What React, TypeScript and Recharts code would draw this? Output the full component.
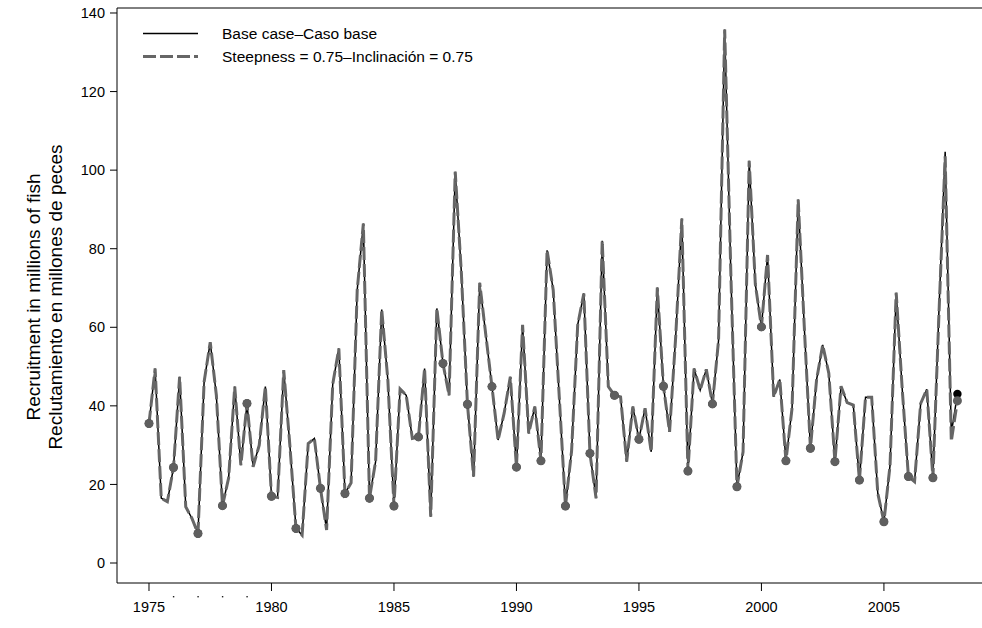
import { LineChart, Line, XAxis, YAxis, ReferenceLine, Legend } from 'recharts';

// quarterly recruitment, first quarter of 1975 to first quarter of 2008
const START_YEAR = 1975;

const baseCase = [
  35.5, 49.5, 16.5, 15.6,
  24.3, 47.4, 14.3, 11.4,
  7.5, 46.1, 56.2, 42.7,
  14.6, 21.6, 44.9, 24.9,
  40.6, 24.5, 30.0, 44.9,
  17.0, 16.7, 49.1, 30.0,
  8.8, 7.1, 30.4, 31.7,
  19.0, 8.4, 45.5, 54.6,
  17.7, 20.4, 69.5, 86.4,
  16.5, 25.8, 64.5, 46.6,
  14.5, 44.3, 42.7, 31.7,
  32.1, 49.5, 11.8, 64.8,
  50.8, 42.7, 99.6, 74.0,
  40.4, 22.0, 71.3, 58.0,
  44.9, 31.3, 38.2, 47.4,
  24.4, 60.6, 33.0, 39.8,
  26.0, 79.6, 69.5, 42.0,
  14.5, 28.5, 60.6, 68.6,
  27.9, 16.5, 82.0, 44.9,
  42.7, 42.3, 25.8, 39.8,
  31.5, 39.4, 28.3, 70.1,
  45.0, 33.4, 57.6, 87.7,
  23.4, 49.5, 44.0, 49.3,
  40.5, 56.7, 135.8, 74.0,
  19.4, 28.3, 102.4, 71.0,
  60.1, 78.4, 42.3, 46.7,
  26.0, 39.4, 92.5, 60.0,
  29.2, 46.6, 55.5, 48.3,
  25.8, 45.0, 40.8, 40.2,
  21.1, 42.2, 42.2, 17.7,
  10.5, 24.9, 68.8, 44.0,
  22.0, 20.7, 40.6, 44.2,
  21.7, 65.0, 104.7, 33.0,
  43.0,
];

const steepness075 = [
  35.5, 49.5, 16.5, 15.6,
  24.3, 47.4, 14.3, 11.4,
  7.5, 46.1, 56.2, 42.7,
  14.6, 21.6, 44.9, 24.9,
  40.6, 24.5, 30.0, 44.9,
  17.0, 16.7, 49.1, 30.0,
  8.8, 7.1, 30.4, 31.7,
  19.0, 8.4, 45.5, 54.6,
  17.7, 20.4, 69.5, 86.4,
  16.5, 25.8, 64.5, 46.6,
  14.5, 44.3, 42.7, 31.7,
  32.1, 49.5, 11.8, 64.8,
  50.8, 42.7, 99.6, 74.0,
  40.4, 22.0, 71.3, 58.0,
  44.9, 31.3, 38.2, 47.4,
  24.4, 60.6, 33.0, 39.8,
  26.0, 79.6, 69.5, 42.0,
  14.5, 28.5, 60.6, 68.6,
  27.9, 16.5, 82.0, 44.9,
  42.7, 42.3, 25.8, 39.8,
  31.5, 39.4, 28.3, 70.1,
  45.0, 33.4, 57.6, 87.7,
  23.4, 49.5, 44.0, 49.3,
  40.5, 56.7, 135.8, 74.0,
  19.4, 28.3, 102.4, 71.0,
  60.1, 78.4, 42.3, 46.7,
  26.0, 39.4, 92.5, 60.0,
  29.2, 46.6, 55.5, 48.3,
  25.8, 45.0, 40.8, 40.2,
  21.1, 42.2, 42.2, 17.7,
  10.5, 24.9, 68.8, 44.0,
  22.0, 20.7, 40.6, 44.2,
  21.7, 64.0, 103.5, 31.0,
  41.3,
];

const xTicks = [1975, 1976, 1977, 1978, 1979, 1980, 1985, 1990, 1995, 2000, 2005];
const yTicks = [0, 20, 40, 60, 80, 100, 120, 140];

const legendItems = [
  { label: 'Base case\u2013Caso base', color: '#000000', width: 1.5, dash: undefined },
  { label: 'Steepness = 0.75\u2013Inclinaci\u00f3n = 0.75', color: '#666666', width: 3, dash: '13 4' },
];

const yLabelLines = ['Recruitment in millions of fish', 'Reclutamiento en millones de peces'];

const FONT = '"Liberation Sans", Arial, Helvetica, sans-serif';
const X_DOMAIN: [number, number] = [1973.694, 2009.33];
const Y_DOMAIN: [number, number] = [-5.09, 141.27];
const AXIS_Y = 583;

const data = baseCase.map((v, i) => ({
  t: START_YEAR + i / 4,
  base: v,
  steep: steepness075[i],
}));

// only the first quarter of each year gets a point
const yearDot = (fill: string, r: number) => (props: any) => {
  const { cx, cy, index } = props;
  if (index % 4 !== 0 || cx == null || cy == null) return <g key={`d-${index}`} />;
  return <circle key={`d-${index}`} cx={cx} cy={cy} r={r} fill={fill} stroke="none" />;
};

function XTick({ x, payload }: any) {
  const major = payload.value % 5 === 0;
  if (!major) {
    return <rect x={x - 0.6} y={AXIS_Y + 13} width={1.4} height={1.4} fill="#222" />;
  }
  return (
    <g>
      <line x1={x} x2={x} y1={AXIS_Y} y2={AXIS_Y + 8} stroke="#000" />
      <text x={x} y={AXIS_Y + 29} textAnchor="middle" fontSize={14.5} fontFamily={FONT} fill="#000">
        {payload.value}
      </text>
    </g>
  );
}

function YLabel() {
  return (
    <g>
      {yLabelLines.map((line, i) => (
        <text
          key={line}
          x={0}
          y={0}
          transform={`translate(${40 + i * 22}, 297) rotate(-90)`}
          textAnchor="middle"
          fontSize={19}
          fontFamily={FONT}
          fill="#000"
        >
          {line}
        </text>
      ))}
    </g>
  );
}

function LegendBox() {
  return (
    <div style={{ fontFamily: FONT, fontSize: 15.5, color: '#000' }}>
      {legendItems.map((item) => (
        <div key={item.label} style={{ display: 'flex', alignItems: 'center', height: 23 }}>
          <svg width={62} height={23}>
            <line x1={3} x2={58} y1={11.5} y2={11.5} stroke={item.color} strokeWidth={item.width} strokeDasharray={item.dash} />
          </svg>
          <span style={{ marginLeft: 20, whiteSpace: 'nowrap' }}>{item.label}</span>
        </div>
      ))}
    </div>
  );
}

export default function App() {
  return (
    <div style={{ position: 'absolute', left: 0, top: 0, width: 982, height: 628, overflow: 'hidden', background: '#fff' }}>
      <LineChart width={1000} height={628} data={data} margin={{ top: 8, right: 10, bottom: 0, left: 0 }}>
        <XAxis
          dataKey="t"
          type="number"
          domain={X_DOMAIN}
          allowDataOverflow
          ticks={xTicks}
          interval={0}
          tick={<XTick />}
          tickLine={false}
          axisLine={{ stroke: '#000' }}
          height={45}
        />
        <YAxis
          type="number"
          domain={Y_DOMAIN}
          allowDataOverflow
          ticks={yTicks}
          interval={0}
          width={117}
          tickSize={7}
          tickMargin={5}
          tickLine={{ stroke: '#000' }}
          axisLine={{ stroke: '#000' }}
          tick={{ fontSize: 14.5, fontFamily: FONT, fill: '#000' }}
          label={<YLabel />}
        />
        <ReferenceLine y={Y_DOMAIN[1]} stroke="#000" />
        <Legend
          layout="horizontal"
          verticalAlign="middle"
          align="center"
          wrapperStyle={{ left: 140, top: 22, width: 420 }}
          content={() => <LegendBox />}
        />
        <Line
          dataKey="base"
          stroke="#000000"
          strokeWidth={1.5}
          dot={yearDot('#000000', 4.2)}
          activeDot={false}
          isAnimationActive={false}
        />
        <Line
          dataKey="steep"
          stroke="#666666"
          strokeWidth={3}
          strokeDasharray="13 4"
          dot={yearDot('#5f5f5f', 4.5)}
          activeDot={false}
          isAnimationActive={false}
        />
      </LineChart>
    </div>
  );
}
